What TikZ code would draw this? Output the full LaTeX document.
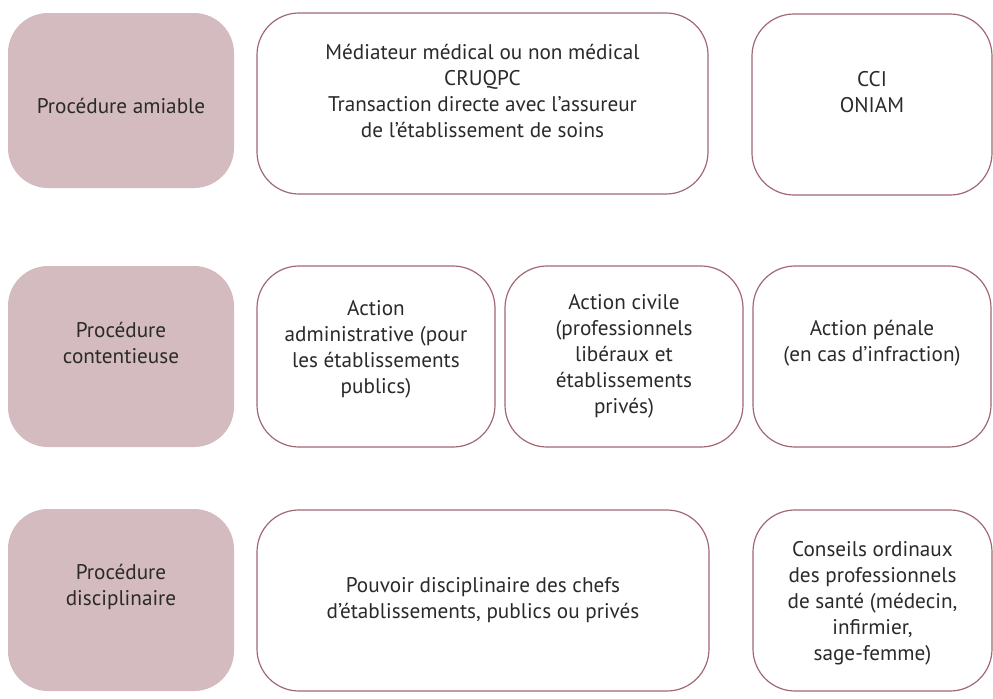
\documentclass[tikz,border=0pt]{standalone}
\usepackage{fontspec}
\setmainfont{PT Sans}
\definecolor{mauve}{HTML}{D3BBC0}
\definecolor{mauveline}{HTML}{A26872}
\definecolor{ink}{HTML}{2B2A29}
\begin{document}
\begin{tikzpicture}[x=0.5pt,y=-0.5pt,
  every node/.style={font=\fontsize{10.6}{13}\selectfont,text=ink},
  head/.style={rounded corners=20pt,fill=mauve,inner sep=0pt},
  item/.style={rounded corners=21pt,draw=mauveline,line width=0.6pt,fill=white,inner sep=0pt},
  txt/.style={align=center,inner sep=0pt}]
  \useasboundingbox (0,0) rectangle (993,698);
  % Row 1
  \node[head,minimum width=113pt,minimum height=87.5pt] (amiable) at (121,100.5) {};
  \node[txt] (amiable-t) at (121,106) {Procédure amiable};
  \node[item,minimum width=225.5pt,minimum height=90.5pt] (mediateur) at (482.5,103.5) {};
  \node[txt] (mediateur-t) at (482.5,91) {Médiateur médical ou non médical\\CRUQPC\\Transaction directe avec l’assureur\\de l’établissement de soins};
  \node[item,minimum width=120pt,minimum height=90.5pt] (cci) at (872,104.5) {};
  \node[txt] (cci-t) at (872,92) {CCI\\ONIAM};
  % Row 2
  \node[head,minimum width=113pt,minimum height=90.5pt] (contentieuse) at (121,356.5) {};
  \node[txt] (contentieuse-t) at (121,343) {Procédure\\contentieuse};
  \node[item,minimum width=119pt,minimum height=90.5pt] (admin) at (376,356.5) {};
  \node[txt] (admin-t) at (376,349) {Action\\administrative (pour\\les établissements\\publics)};
  \node[item,minimum width=119pt,minimum height=90.5pt] (civile) at (624,356.5) {};
  \node[txt] (civile-t) at (624,356) {Action civile\\(professionnels\\libéraux et\\établissements\\privés)};
  \node[item,minimum width=119pt,minimum height=90.5pt] (penale) at (872,356.5) {};
  \node[txt] (penale-t) at (872,343) {Action pénale\\(en cas d’infraction)};
  % Row 3
  \node[head,minimum width=113pt,minimum height=91pt] (disciplinaire) at (121,600) {};
  \node[txt] (disciplinaire-t) at (121,587) {Procédure\\disciplinaire};
  \node[item,minimum width=226pt,minimum height=90.5pt] (chefs) at (483,600.5) {};
  \node[txt] (chefs-t) at (483,600) {Pouvoir disciplinaire des chefs\\d’établissements, publics ou privés};
  \node[item,minimum width=119.5pt,minimum height=90.5pt] (ordinaux) at (872.5,600.5) {};
  \node[txt] (ordinaux-t) at (872.5,603) {Conseils ordinaux\\des professionnels\\de santé (médecin,\\infirmier,\\sage-femme)};
\end{tikzpicture}
\end{document}
